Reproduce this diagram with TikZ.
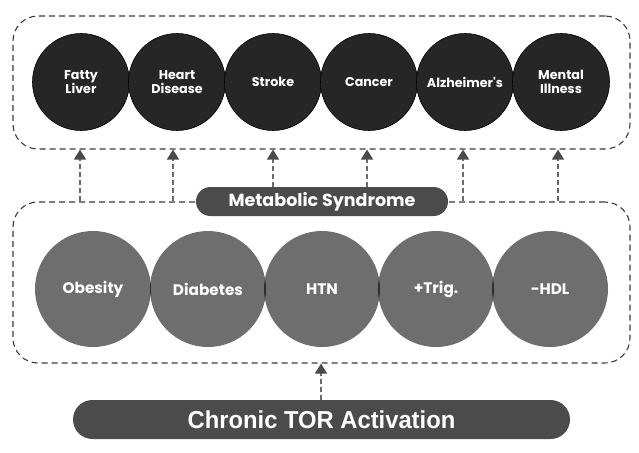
\documentclass[tikz,border=0pt]{standalone}
\usepackage{fontspec}
\setmainfont{Poppins}
\newfontfamily\popbold{Poppins Bold}
\newfontfamily\torfont{Liberation Sans Bold}
\usetikzlibrary{arrows.meta,calc}
\definecolor{topfill}{HTML}{262626}
\definecolor{lowfill}{HTML}{6E6E6E}
\definecolor{lensfill}{HTML}{2E2E2E}
\definecolor{pillfill}{HTML}{4B4B4B}
\definecolor{boxline}{HTML}{3A3A3A}
\definecolor{stemline}{HTML}{6A6A6A}
\definecolor{tipfill}{HTML}{4A4A4A}
\tikzset{
  dashbox/.style={draw=boxline, line width=1.1pt, dash pattern=on 6pt off 4pt, rounded corners=25pt, rectangle, inner sep=0pt},
  topcirc/.style={circle, fill=topfill, draw=black, line width=0.6pt, minimum size=97pt, inner sep=0pt, text=white, align=center, font=\popbold\fontsize{12.7}{14.5}\selectfont},
  lowcirc/.style={circle, fill=lowfill, minimum size=116pt, inner sep=0pt, text=white, align=center, font=\popbold\fontsize{15.3}{17}\selectfont},
  pill/.style={rectangle, fill=pillfill, text=white, inner sep=0pt},
  upstem/.style={draw=stemline, line width=1.3pt, dash pattern=on 5pt off 3pt, -{Triangle[width=12pt,length=10pt,fill=tipfill,color=tipfill]}},
}
\begin{document}
\begin{tikzpicture}[x=1pt,y=-1pt]
\useasboundingbox (0,0) rectangle (639,452);
% top dashed box
\node[dashbox, minimum width=617pt, minimum height=133pt] (topbox) at (321.5,82.5) {};
% top circles
\node[topcirc] (fl) at (81,82) {Fatty\\Liver};
\node[topcirc] (hd) at (177,82) {Heart\\Disease};
\node[topcirc] (st) at (273,82) {Stroke};
\node[topcirc] (ca) at (369,82) {Cancer};
\node[topcirc] (al) at (465,82) {Alzheimer's};
\node[topcirc] (mi) at (561,82) {Mental\\Illness};
% lower dashed box
\node[dashbox, minimum width=617pt, minimum height=161pt] (lowbox) at (321.5,282.5) {};
% lower circles
\node[lowcirc] (ob) at (93,289) {Obesity};
\node[lowcirc] (di) at (208,289) {Diabetes};
\node[lowcirc] (ht) at (322,289) {HTN};
\node[lowcirc] (tg) at (436,289) {+Trig.};
\node[lowcirc] (hdl) at (550,289) {-HDL};
\foreach \a/\b in {ob/di, di/ht, ht/tg, tg/hdl}{
  \begin{scope}
    \clip (\a.center) circle (58pt);
    \fill[lensfill] (\b.center) circle (58pt);
  \end{scope}
}
% metabolic syndrome pill
\node[pill, rounded corners=14.5pt, minimum width=252pt, minimum height=29pt,
      font=\popbold\fontsize{17.5}{19}\selectfont] (ms) at (322,201.5) {Metabolic Syndrome};
% chronic TOR pill
\node[pill, rounded corners=19.5pt, minimum width=497pt, minimum height=39pt,
      font=\torfont\fontsize{24.5}{28}\selectfont] (tor) at (321.5,419.5) {\scalebox{0.97}[1]{Chronic TOR Activation}};
% columns
\coordinate (c1) at (80,0);
\coordinate (c2) at (173,0);
\coordinate (c3) at (273,0);
\coordinate (c4) at (367,0);
\coordinate (c5) at (463,0);
\coordinate (c6) at (558,0);
\coordinate (c7) at (321,0);
\draw[upstem] (c1 |- lowbox.north) -- (c1 |- topbox.south);
\draw[upstem] (c2 |- lowbox.north) -- (c2 |- topbox.south);
\draw[upstem] (c3 |- ms.north) -- (c3 |- topbox.south);
\draw[upstem] (c4 |- ms.north) -- (c4 |- topbox.south);
\draw[upstem] (c5 |- lowbox.north) -- (c5 |- topbox.south);
\draw[upstem] (c6 |- lowbox.north) -- (c6 |- topbox.south);
\draw[upstem] (c7 |- tor.north) -- (c7 |- lowbox.south);
\end{tikzpicture}
\end{document}
